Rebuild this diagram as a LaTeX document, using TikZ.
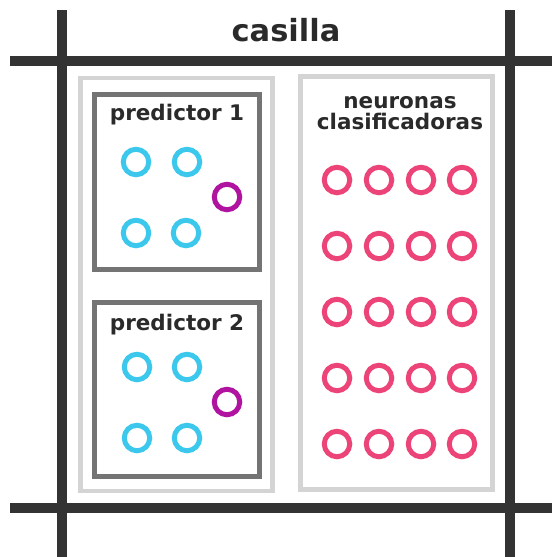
\documentclass[tikz,border=0pt]{standalone}
\usepackage{fontspec}
\setmainfont{DejaVu Sans}
\definecolor{gridc}{HTML}{333333}
\definecolor{outerc}{HTML}{D4D4D4}
\definecolor{predc}{HTML}{747474}
\definecolor{cyanc}{HTML}{3CC8EC}
\definecolor{magc}{HTML}{B0139F}
\definecolor{pinkc}{HTML}{EC4478}
\definecolor{txtc}{HTML}{2A2A2A}
\begin{document}
\begin{tikzpicture}[x=1pt,y=-1pt,
  gridline/.style={draw=gridc,line width=10.5pt},
  container/.style={draw=outerc,line width=4.5pt,rectangle,inner sep=0pt},
  predbox/.style={draw=predc,line width=5pt,rectangle,inner sep=0pt},
  neuron/.style={circle,draw,line width=5pt,minimum size=25.5pt,inner sep=0pt},
  inn/.style={neuron,draw=cyanc},
  outn/.style={neuron,draw=magc},
  cls/.style={neuron,draw=pinkc},
  lbl/.style={font=\bfseries\fontsize{21.5}{25}\selectfont,text=txtc,inner sep=0pt,align=center},
  title/.style={font=\bfseries\fontsize{30.5}{34}\selectfont,text=txtc,inner sep=0pt}]
\useasboundingbox (0,0) rectangle (552,557);
% grid lines
\coordinate (vl1) at (62,10); \coordinate (vl2) at (62,557);
\coordinate (vr1) at (510,10); \coordinate (vr2) at (510,557);
\coordinate (ht1) at (10,61); \coordinate (ht2) at (552,61);
\coordinate (hb1) at (10,508); \coordinate (hb2) at (552,508);
\draw[gridline] (vl1) -- (vl2);
\draw[gridline] (vr1) -- (vr2);
\draw[gridline] (ht1) -- (ht2);
\draw[gridline] (hb1) -- (hb2);
\node[title] (casilla) at (286,30) {casilla};
% containers
\node[container,minimum width=192pt,minimum height=413pt] (left) at (176.5,284.5) {};
\node[container,minimum width=192pt,minimum height=413pt] (right) at (396.5,283) {};
% predictor boxes
\node[predbox,minimum width=165pt,minimum height=175pt] (p1) at (177,182) {};
\node[predbox,minimum width=165pt,minimum height=174pt] (p2) at (177,389) {};
\node[lbl] (p1t) at (177,115) {predictor 1};
\node[lbl] (p2t) at (177,325) {predictor 2};
% predictor 1 neurons
\node[inn] (a1) at (136,162) {};
\node[inn] (a2) at (187,162) {};
\node[inn] (a3) at (136,233) {};
\node[inn] (a4) at (186,233) {};
\node[outn] (ao) at (227,197) {};
% predictor 2 neurons
\node[inn] (b1) at (137,367) {};
\node[inn] (b2) at (187,367) {};
\node[inn] (b3) at (137,438) {};
\node[inn] (b4) at (187,438) {};
\node[outn] (bo) at (227,402) {};
% classifier
\node[lbl] (ct) at (400,113) {neuronas\\[-4pt]clasificadoras};
\foreach \r/\y in {1/180,2/246,3/312,4/378,5/444}{
  \foreach \c/\x in {1/337,2/379,3/421,4/462}{
    \node[cls] (c\r\c) at (\x,\y) {};
  }
}
\end{tikzpicture}
\end{document}
